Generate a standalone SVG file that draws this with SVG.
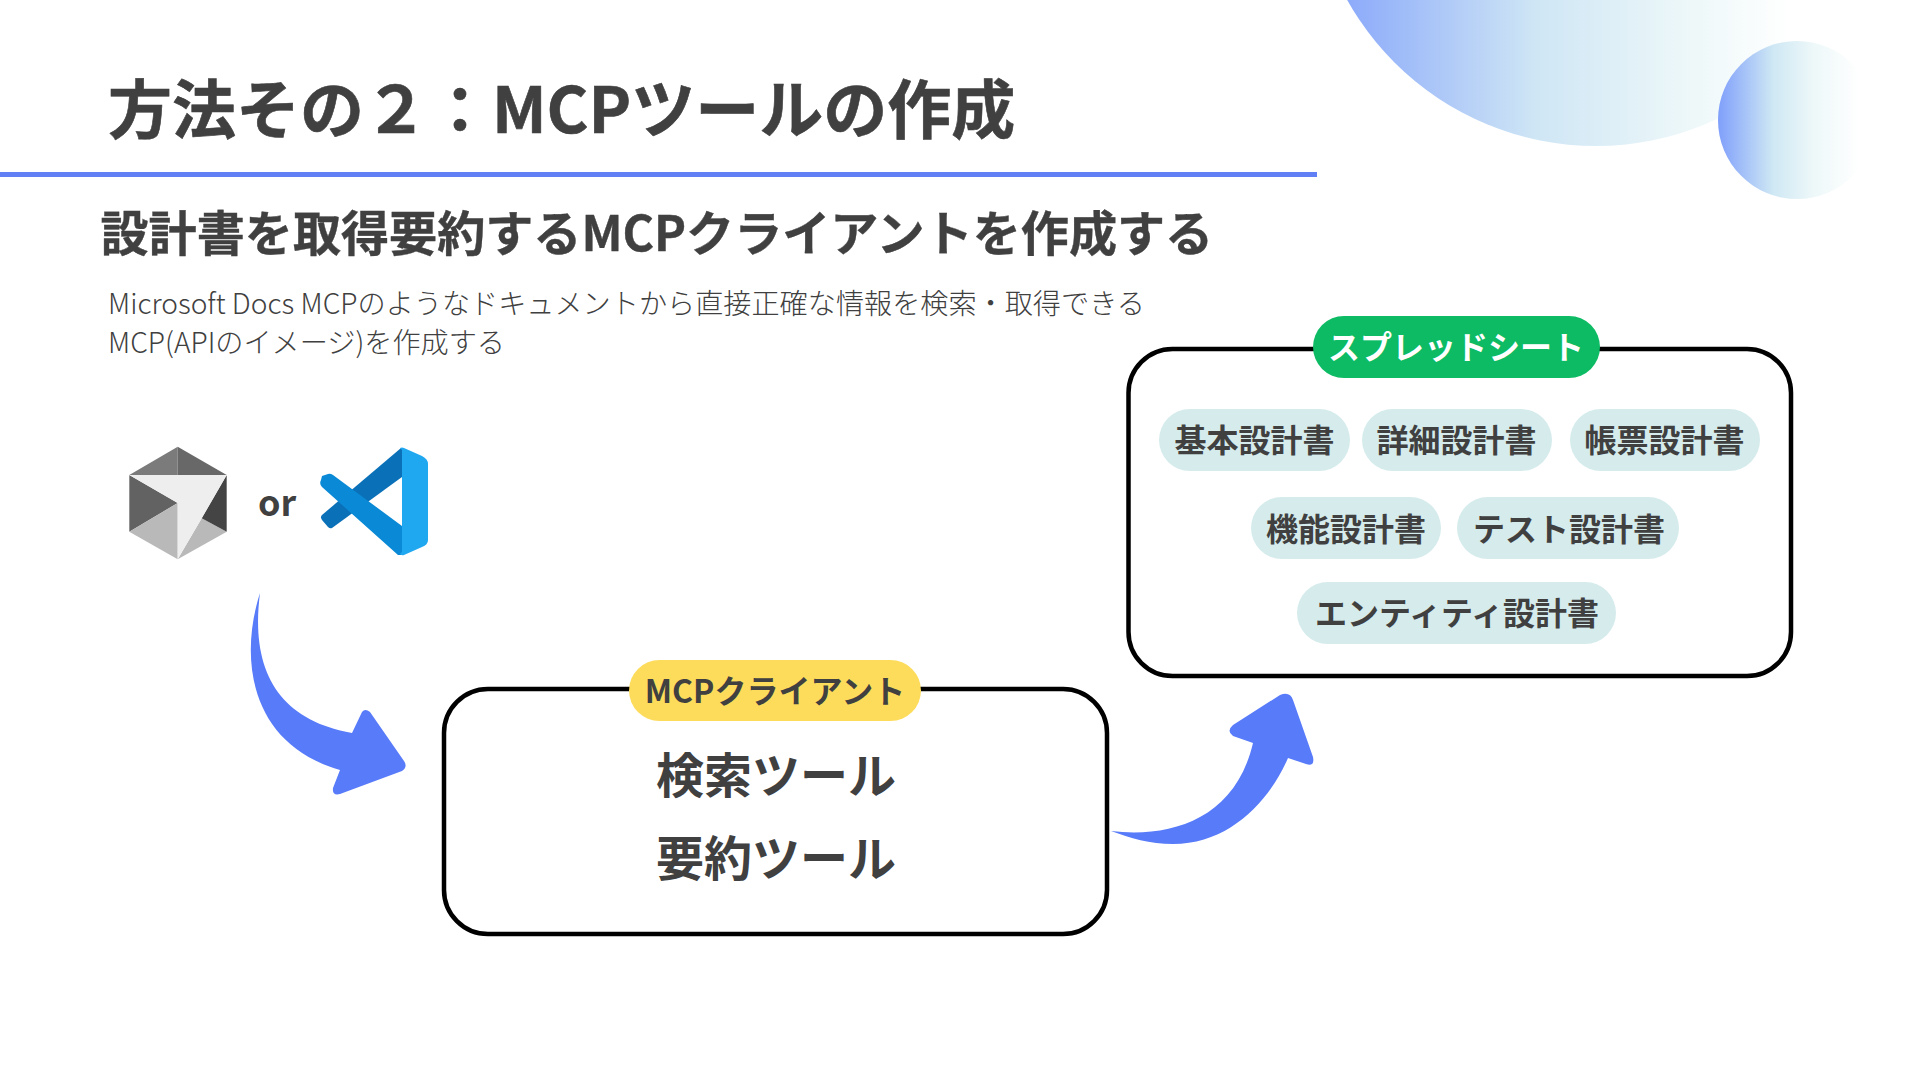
<svg xmlns="http://www.w3.org/2000/svg" width="1920" height="1080" viewBox="0 0 1920 1080">
<style>
text{font-family:"Noto Sans CJK JP","Noto Sans",sans-serif;fill:#404040}
.b{font-weight:700}
.m{text-anchor:middle}
.box{fill:#fff;stroke:#000;stroke-width:4.5}
.pill{fill:#d5ebec}
.pt{font-size:32px;font-weight:700;text-anchor:middle}
.tool{font-size:48px;font-weight:700;text-anchor:middle}
.arrow{fill:#587bfa}
</style>
<defs>
<linearGradient id="g1" gradientUnits="userSpaceOnUse" x1="1311" y1="0" x2="1790" y2="0"><stop offset="0" stop-color="#7f9ffb"/><stop offset=".47" stop-color="#cfe6f5"/><stop offset=".8" stop-color="#eef8f9"/><stop offset="1" stop-color="#fff"/></linearGradient>
<linearGradient id="g2" gradientUnits="userSpaceOnUse" x1="1718" y1="0" x2="1860" y2="0"><stop offset="0" stop-color="#7f9ffb"/><stop offset=".39" stop-color="#cfe8f4"/><stop offset=".68" stop-color="#eef8f9"/><stop offset="1" stop-color="#fff"/></linearGradient>
</defs>
<rect width="1920" height="1080" fill="#fff"/>
<circle cx="1596" cy="-139" r="285" fill="url(#g1)"/>
<circle cx="1797" cy="120" r="79" fill="url(#g2)"/>
<rect x="0" y="172" width="1317" height="5" fill="#6280f5"/>
<text class="b" x="108" y="133" font-size="64" stroke="#404040" stroke-width=".6">方法その２：MCPツールの作成</text>
<text class="b" x="100.500" y="250.500" font-size="48.100" stroke="#404040" stroke-width=".4">設計書を取得要約するMCPクライアントを作成する</text>
<text x="108" y="314" font-size="28.150" font-weight="300">Microsoft Docs MCPのようなドキュメントから直接正確な情報を検索・取得できる</text>
<text x="108" y="353" font-size="28.150" font-weight="300">MCP(APIのイメージ)を作成する</text>

<g id="cursor-icon">
<polygon points="177.7,446.7 129.3,475 177.7,475" fill="#7b7b7b"/>
<polygon points="177.7,446.7 226.7,475 177.7,475" fill="#686868"/>
<polygon points="129.3,475 177.7,503 129.3,531.7" fill="#626262"/>
<polygon points="129.3,531.7 177.7,503 177.7,559.3" fill="#b9b9b9"/>
<polygon points="226.7,531.7 201.7,518.3 177.7,559.3" fill="#b9b9b9"/>
<polygon points="226.7,475 226.7,531.7 201.7,518.3" fill="#444"/>
<polygon points="129.3,475 226.7,475 201.7,518.3 177.7,559.3 177.7,503" fill="#eee"/>
</g>
<text id="or" class="b m" x="277" y="516" font-size="36">or</text>
<g id="vscode-icon">
<path d="M401,448 L402,448 L402,477 L332,528 Q330,529 328,527 L322,520 Q320,517 322,515 Z" fill="#0a70b8"/>
<path d="M322,476 L328,474 Q330,473 333,475 L402,526 L402,555 L398,555 L322,487 Q319,484 321,480 Z" fill="#0a8ad6"/>
<path d="M400,448 Q402,447 404,448 L422,456 Q428,459 428,464 L428,540 Q428,545 422,547 L404,555 Q402,556 400,554 L402,552 L402,450 Z" fill="#1fa7f0"/>
</g>

<g id="connectors">
<path class="arrow" d="M260,593 C238,662 252,745 340,770 L333,788 Q332,796 340,794 L402,771 Q408,767 404,761 L370,712 Q365,708 362,712 L352,733 C278,720 250,670 260,593 Z"/>
<path class="arrow" d="M1111,831 C1170,838 1235,820 1253,743 L1233,736 Q1226,731 1233,725 L1280,695 Q1290,691 1293,700 L1313,757 Q1315,767 1306,764 L1288,758 C1270,800 1230,844 1173,844 C1150,844 1130,838 1111,831 Z"/>
</g>

<g id="client">
<rect class="box" x="444" y="689" width="663" height="245" rx="44"/>
<rect x="629" y="660" width="292" height="61" rx="30.5" fill="#fddc5c"/>
<text class="pt" x="775" y="703">MCPクライアント</text>
<text class="tool" x="776" y="793">検索ツール</text>
<text class="tool" x="776" y="876">要約ツール</text>
</g>

<g id="sheet">
<rect class="box" x="1128.500" y="349" width="662.500" height="327" rx="44"/>
<rect x="1313" y="316" width="287" height="62" rx="31" fill="#0cbb63"/>
<text class="pt" x="1456" y="359" style="fill:#fff">スプレッドシート</text>
</g>
<g id="n1"><rect class="pill" x="1159" y="409" width="191" height="62" rx="31"/><text class="pt" x="1254.500" y="452">基本設計書</text></g>
<g id="n2"><rect class="pill" x="1362" y="409" width="190" height="62" rx="31"/><text class="pt" x="1456.500" y="452">詳細設計書</text></g>
<g id="n3"><rect class="pill" x="1570" y="409" width="190" height="62" rx="31"/><text class="pt" x="1664.500" y="452">帳票設計書</text></g>
<g id="n4"><rect class="pill" x="1251" y="497" width="190" height="62" rx="31"/><text class="pt" x="1346" y="541">機能設計書</text></g>
<g id="n5"><rect class="pill" x="1457" y="497" width="222" height="62" rx="31"/><text class="pt" x="1569" y="541">テスト設計書</text></g>
<g id="n6"><rect class="pill" x="1297" y="582" width="319" height="62" rx="31"/><text class="pt" x="1457" y="625">エンティティ設計書</text></g>
</svg>
